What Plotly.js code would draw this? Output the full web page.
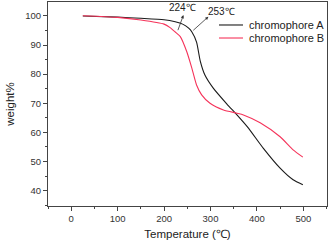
<!DOCTYPE html>
<html><head><meta charset="utf-8">
<script src="https://cdn.plot.ly/plotly-3.0.1.min.js"></script>
<style>body{margin:0;padding:0;background:#fff}#c{width:330px;height:241px}</style>
</head><body><div id="c"></div>
<script>
const tempA = [25, 100, 150, 200, 224, 240, 253, 260, 270, 278, 288, 306, 335, 357, 380, 414, 450, 478, 499];
const weightA = [100.0, 99.6, 99.2, 98.7, 98.0, 97.2, 95.8, 94.5, 91.0, 84.5, 79.7, 75.2, 69.8, 66.0, 61.8, 54.5, 47.7, 43.7, 42.0];
const tempB = [25, 100, 150, 200, 213, 224, 235, 249, 260, 270, 281, 299, 328, 357, 371, 407, 450, 478, 499];
const weightB = [100.1, 99.5, 98.6, 97.2, 96.0, 94.5, 92.9, 87.7, 82.0, 76.3, 72.9, 70.0, 67.7, 66.6, 66.0, 63.3, 58.5, 54.0, 51.5];
const names = ['chromophore A', 'chromophore B'];
const colors = ['#1a1a1a', '#f5335a'];
const xTicks = [0, 100, 200, 300, 400, 500];
const yTicks = [40, 50, 60, 70, 80, 90, 100];

const font = 'Arial, "Liberation Sans", sans-serif';
const traces = [
  {x: tempA, y: weightA, name: names[0], mode: 'lines', line: {color: colors[0], width: 1.1, shape: 'spline', smoothing: 0.6}},
  {x: tempB, y: weightB, name: names[1], mode: 'lines', line: {color: colors[1], width: 1.1, shape: 'spline', smoothing: 0.6}}
];
const axisCommon = {
  showgrid: false, zeroline: false, showline: true, linecolor: '#444', linewidth: 1, mirror: true,
  ticks: 'outside', ticklen: 4, tickcolor: '#444', tickwidth: 1,
  tickfont: {family: font, size: 9.5, color: '#333'}
};
// manual legend (compact, like the original)
const legY = [0.8873, 0.8235];
const shapes = names.map((n, i) => ({type: 'line', xref: 'paper', yref: 'paper', x0: 0.6129, x1: 0.6989, y0: legY[i], y1: legY[i], line: {color: colors[i], width: 1.1}}));
const legText = names.map((n, i) => ({xref: 'paper', yref: 'paper', x: 0.7133, y: legY[i], xanchor: 'left', yanchor: 'middle', text: n, showarrow: false, font: {family: font, size: 11, color: '#222'}}));
const layout = {
  width: 330, height: 241,
  margin: {l: 48, r: 3, t: 2, b: 35},
  paper_bgcolor: '#fff', plot_bgcolor: '#fff',
  showlegend: false,
  shapes: shapes,
  xaxis: Object.assign({}, axisCommon, {
    range: [-50, 551], tickvals: xTicks, ticktext: xTicks.map(String),
    minor: {dtick: 50, tick0: 0, ticklen: 2, ticks: 'outside', tickcolor: '#444'},
    title: {text: 'Temperature (℃)', font: {family: font, size: 11.5, color: '#222'}, standoff: 6}
  }),
  yaxis: Object.assign({}, axisCommon, {
    range: [34.7, 104.8], tickvals: yTicks, ticktext: yTicks.map(String),
    minor: {dtick: 5, tick0: 0, ticklen: 2, ticks: 'outside', tickcolor: '#444'},
    title: {text: 'weight%', font: {family: font, size: 11.5, color: '#222'}, standoff: 8}
  }),
  annotations: [
    {x: 240, y: 102.75, xref: 'x', yref: 'y', text: '224℃', showarrow: false, font: {family: font, size: 10, color: '#222'}},
    {x: 323.5, y: 101.7, xref: 'x', yref: 'y', text: '253℃', showarrow: false, font: {family: font, size: 10, color: '#222'}},
    {x: 241.7, y: 100.3, xref: 'x', yref: 'y', axref: 'x', ayref: 'y', ax: 228.7, ay: 94.6, text: '', showarrow: true, arrowhead: 2, arrowsize: 0.8, arrowwidth: 0.8, arrowcolor: '#333', standoff: 0, startstandoff: 0},
    {x: 295.5, y: 99.76, xref: 'x', yref: 'y', axref: 'x', ayref: 'y', ax: 259.7, ay: 94.6, text: '', showarrow: true, arrowhead: 2, arrowsize: 0.8, arrowwidth: 0.8, arrowcolor: '#333', standoff: 0, startstandoff: 0}
  ].concat(legText)
};
Plotly.newPlot('c', traces, layout, {staticPlot: true, displayModeBar: false});
</script></body></html>
